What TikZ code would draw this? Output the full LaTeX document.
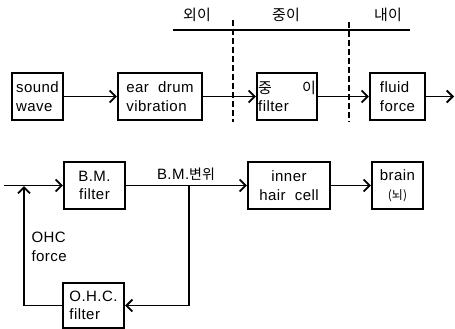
\documentclass[tikz,border=0pt]{standalone}
\usepackage{fontspec}
\setmainfont{Liberation Sans}[LetterSpace=3]
\newfontfamily\krfont{Noto Sans CJK KR}
\usepackage{tikz}
\usetikzlibrary{arrows.meta,positioning}
\tikzset{
  blk/.style={
    draw=black, line width=2.4pt, inner sep=1pt,
    minimum height=47pt, font=\fontsize{15}{18.5}\selectfont
  },
  lbox/.style={blk, align=left},
  cbox/.style={blk, align=center},
  arr/.style={-{Straight Barb[length=6pt,width=12pt,line width=1.8pt]}, line width=1.8pt},
  wire/.style={line width=1.6pt},
  divider/.style={line width=1.8pt, dash pattern=on 6pt off 3pt},
  zone/.style={font=\krfont\fontsize{15}{17}\selectfont},
  anno/.style={font=\fontsize{15}{18.5}\selectfont, align=left}
}
\begin{document}
\begin{tikzpicture}[x=1pt,y=-1pt]
  \useasboundingbox (0,0) rectangle (455,329);
  % ear sections
  \node[zone] (outer) at (197,15) {외이};
  \node[zone] (middle) at (286,15) {중이};
  \node[zone] (inner) at (388,15) {내이};
  \draw[wire] (173,30) -- (410,30);
  \draw[divider] (233,20) -- (233,122);
  \draw[divider] (349,22) -- (349,122);
  % top row
  \node[lbox, minimum width=51pt] (sound) at (37.5,96.5) {sound\\wave};
  \node[lbox, minimum width=84pt] (drum) at (160,96.5) {ear~~drum\\vibration};
  \node[lbox, minimum width=60pt] (mid) at (287,96.5) {{\krfont 중}\qquad{\krfont 이}\\filter};
  \node[lbox, minimum width=55pt] (fluid) at (397.5,96.5) {fluid\\force};
  \coordinate (out) at (454,96.5);
  \draw[arr] (sound) -- (drum);
  \draw[arr] (drum) -- (mid);
  \draw[arr] (mid) -- (fluid);
  \draw[arr] (fluid) -- (out);
  % bottom row
  \coordinate (in) at (4,185.5);
  \node[cbox, minimum width=61pt] (bm) at (94.5,185.5) {B.M.\\filter};
  \node[cbox, minimum width=82pt] (ihc) at (289,185.5) {inner\\hair~~cell};
  \node[cbox, minimum width=51pt] (brain) at (397.5,185.5) {brain\\{\krfont\fontsize{12}{14}\selectfont(뇌)}};
  \node[lbox, minimum width=61pt, minimum height=45pt] (ohc) at (93.5,305.5) {O.H.C.\\filter};
  \node[anno, anchor=south] (disp) at (186,184) {B.M.{\krfont\fontsize{14}{16}\selectfont 변위}};
  \node[anno, anchor=west] (force) at (28,247) {OHC\\force};
  \coordinate (tap) at (189,185.5);
  \coordinate (fb) at (24,186);
  \draw[arr] (in) -- (bm);
  \draw[arr] (bm) -- (ihc);
  \draw[arr] (ihc) -- (brain);
  \draw[arr] (tap) |- (ohc.east);
  \draw[arr] (ohc.west) -| (fb);
\end{tikzpicture}
\end{document}
